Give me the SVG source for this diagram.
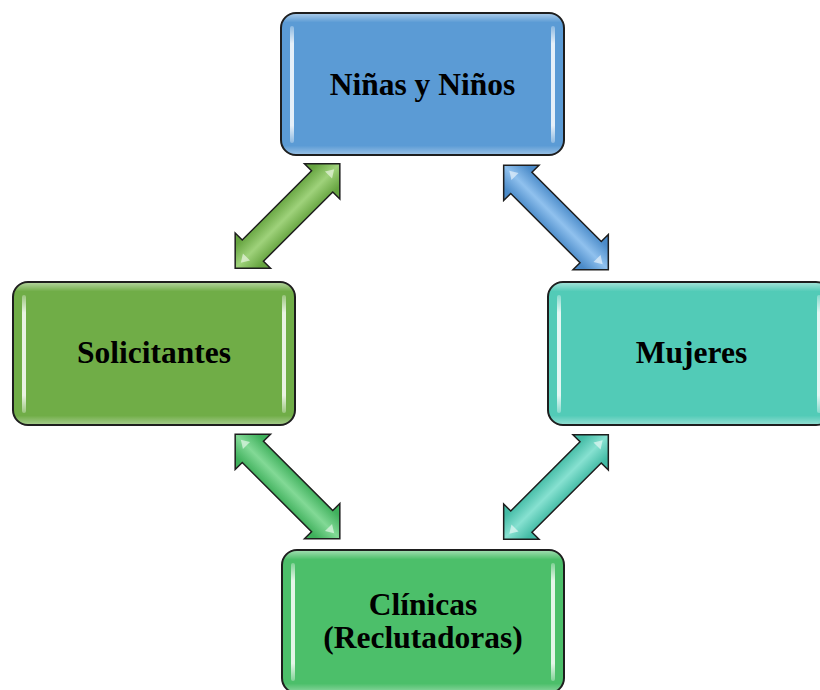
<svg xmlns="http://www.w3.org/2000/svg" width="820" height="690" viewBox="0 0 820 690">
<style>
.box{stroke:#1e1e1e;stroke-width:2}
.lbl{font-family:"Liberation Serif","Times New Roman",serif;font-weight:bold;font-size:31.5px;fill:#000;text-anchor:middle}
.arr{stroke:#1e1e1e;stroke-width:1.5;stroke-linejoin:miter}
.hl{fill:#fff;opacity:0.55}
</style>
<defs>
<linearGradient id="gloss" x1="0" y1="0" x2="0" y2="1">
<stop offset="0" stop-color="#fff" stop-opacity="0.45"/>
<stop offset="0.06" stop-color="#fff" stop-opacity="0"/>
<stop offset="0.94" stop-color="#fff" stop-opacity="0"/>
<stop offset="1" stop-color="#fff" stop-opacity="0.35"/>
</linearGradient>
<linearGradient id="strip" x1="0" y1="0" x2="0" y2="1">
<stop offset="0" stop-color="#fff" stop-opacity="0.3"/>
<stop offset="0.15" stop-color="#fff" stop-opacity="0.85"/>
<stop offset="0.85" stop-color="#fff" stop-opacity="0.85"/>
<stop offset="1" stop-color="#fff" stop-opacity="0.3"/>
</linearGradient>
<linearGradient id="gA1" gradientUnits="userSpaceOnUse" x1="0" y1="-16" x2="0" y2="16">
<stop offset="0" stop-color="#66a440"/><stop offset="0.5" stop-color="#9fd27b"/><stop offset="1" stop-color="#66a440"/>
</linearGradient>
<linearGradient id="gA2" gradientUnits="userSpaceOnUse" x1="0" y1="-16" x2="0" y2="16">
<stop offset="0" stop-color="#4b8bc9"/><stop offset="0.5" stop-color="#90c1ee"/><stop offset="1" stop-color="#4b8bc9"/>
</linearGradient>
<linearGradient id="gA3" gradientUnits="userSpaceOnUse" x1="0" y1="-16" x2="0" y2="16">
<stop offset="0" stop-color="#3fb05c"/><stop offset="0.5" stop-color="#82d996"/><stop offset="1" stop-color="#3fb05c"/>
</linearGradient>
<linearGradient id="gA4" gradientUnits="userSpaceOnUse" x1="0" y1="-16" x2="0" y2="16">
<stop offset="0" stop-color="#43bba5"/><stop offset="0.5" stop-color="#87e1d1"/><stop offset="1" stop-color="#43bba5"/>
</linearGradient>
<path id="dblarrow" d="M74,0 L49,-25 L49,-15 L-49,-15 L-49,-25 L-74,0 L-49,25 L-49,15 L49,15 L49,25 Z"/>
<path id="tipHl" d="M66,0 L58,-5 L58,5 Z M-66,0 L-58,-5 L-58,5 Z"/>
</defs>

<g id="connectors">
<g id="arrow-ninos-solicitantes" transform="translate(287.5,216) rotate(-45)">
<use href="#dblarrow" class="arr" fill="url(#gA1)"/>
<use href="#tipHl" class="hl"/>
</g>
<g id="arrow-ninos-mujeres" transform="translate(556,217.5) rotate(45)">
<use href="#dblarrow" class="arr" fill="url(#gA2)"/>
<use href="#tipHl" class="hl"/>
</g>
<g id="arrow-solicitantes-clinicas" transform="translate(287.5,486.5) rotate(45)">
<use href="#dblarrow" class="arr" fill="url(#gA3)"/>
<use href="#tipHl" class="hl"/>
</g>
<g id="arrow-mujeres-clinicas" transform="translate(556,487) rotate(-45)">
<use href="#dblarrow" class="arr" fill="url(#gA4)"/>
<use href="#tipHl" class="hl"/>
</g>
</g>

<g id="node-ninos">
<rect class="box" x="281" y="13" width="283" height="142" rx="15" fill="#5b9bd5"/>
<rect x="282" y="14" width="281" height="140" rx="14" fill="url(#gloss)"/>
<rect x="290" y="26" width="4" height="117" rx="2" fill="url(#strip)"/>
<rect x="551" y="26" width="4" height="117" rx="2" fill="url(#strip)"/>
<text class="lbl" x="422.5" y="95">Niñas y Niños</text>
</g>

<g id="node-solicitantes">
<rect class="box" x="13" y="282" width="282" height="143" rx="15" fill="#70ad47"/>
<rect x="14" y="283" width="280" height="141" rx="14" fill="url(#gloss)"/>
<rect x="22" y="295" width="4" height="118" rx="2" fill="url(#strip)"/>
<rect x="282" y="295" width="4" height="118" rx="2" fill="url(#strip)"/>
<text class="lbl" x="154" y="363">Solicitantes</text>
</g>

<g id="node-mujeres">
<rect class="box" x="548" y="282" width="283" height="143" rx="15" fill="#52cbb7"/>
<rect x="549" y="283" width="281" height="141" rx="14" fill="url(#gloss)"/>
<rect x="557" y="295" width="4" height="118" rx="2" fill="url(#strip)"/>
<rect x="817" y="295" width="4" height="118" rx="2" fill="url(#strip)"/>
<text class="lbl" x="691.5" y="363">Mujeres</text>
</g>

<g id="node-clinicas">
<rect class="box" x="282" y="550" width="282" height="143" rx="15" fill="#4cbf6a"/>
<rect x="283" y="551" width="280" height="141" rx="14" fill="url(#gloss)"/>
<rect x="291" y="563" width="4" height="118" rx="2" fill="url(#strip)"/>
<rect x="551" y="563" width="4" height="118" rx="2" fill="url(#strip)"/>
<text class="lbl" x="423" y="615">Clínicas</text>
<text class="lbl" x="423" y="648">(Reclutadoras)</text>
</g>
</svg>
